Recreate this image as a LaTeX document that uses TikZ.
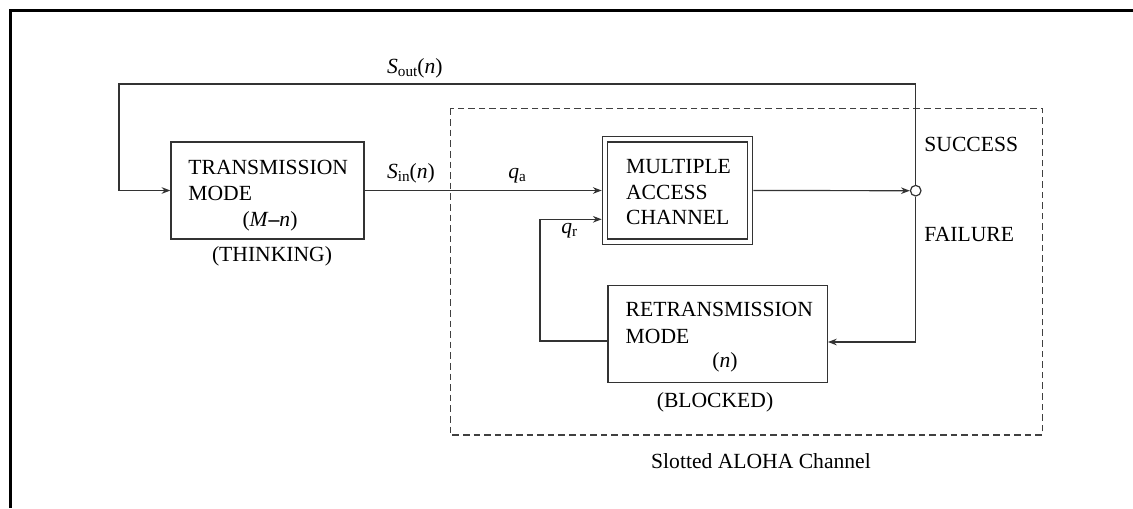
\documentclass[tikz,border=0pt]{standalone}
\usepackage{fontspec}
\setmainfont{Liberation Serif}
\usetikzlibrary{arrows.meta}
\newcommand\lowsub[1]{\raisebox{-1.6pt}{\fontsize{7.6pt}{8pt}\selectfont #1}}
\begin{document}
\begin{tikzpicture}[x=0.5pt,y=-0.5pt,
  font=\fontsize{10.8pt}{13pt}\selectfont,
  line/.style={draw=black!80,line width=0.6pt},
  arr/.style={line,-{Stealth[length=4.4pt,width=3.3pt]}},
  blockbox/.style={line,minimum height=48.5pt,inner sep=0pt},
  txt/.style={inner sep=0pt,anchor=base west},
  ctxt/.style={inner sep=0pt,anchor=base}]
\useasboundingbox (0,0) rectangle (1133,508);

% frame edges
\draw[line width=1.4pt] (10.5,508) -- (10.5,10.8) -- (1133,10.8);

% slotted ALOHA channel region
\draw[black!75,line width=0.55pt,dash pattern=on 3.3pt off 2pt]
  (450.3,108.5) rectangle (1042.3,435);
\node[ctxt] (aloha) at (761,468) {Slotted ALOHA Channel};

% blocks
\node[blockbox,minimum width=96.5pt] (tm) at (267.5,190.5) {};
\node[line,minimum width=75.2pt,minimum height=53.8pt,inner sep=0pt] (mac) at (677.5,190.5) {};
\node[blockbox,minimum width=69.65pt] (macin) at (677.5,190.5) {};
\node[blockbox,minimum width=109.65pt] (rt) at (717.7,334.2) {};
\node[line,circle,fill=white,minimum size=5.3pt,inner sep=0pt] (jn) at (915.7,190.7) {};

% block texts
\node[txt] (tm1) at (188,174) {TRANSMISSION};
\node[txt] (tm2) at (188,200) {MODE};
\node[ctxt] (tm3) at (270,226.5) {(\textit{M}{\fontseries{b}\selectfont –}\textit{n})};
\node[ctxt] (tmlab) at (272,261) {(THINKING)};

\node[txt] (mac1) at (625.7,173.3) {MULTIPLE};
\node[txt] (mac2) at (625.7,199) {ACCESS};
\node[txt] (mac3) at (625.7,224.3) {CHANNEL};

\node[txt] (rt1) at (625.3,316.7) {RETRANSMISSION};
\node[txt] (rt2) at (625.3,343.3) {MODE};
\node[ctxt] (rt3) at (725,367) {(\textit{n})};
\node[ctxt] (rtlab) at (715,407) {(BLOCKED)};

% signal labels
\node[txt] (sout) at (386.7,73.3) {\textit{S}\lowsub{out}(\textit{n})};
\node[txt] (sin) at (386.7,178.3) {\textit{S}\lowsub{in}(\textit{n})};
\node[txt] (qa) at (508,178) {\textit{q}\lowsub{a}};
\node[txt] (qr) at (561,233) {\textit{q}\lowsub{r}};
\node[txt] (succ) at (924,151.7) {SUCCESS};
\node[txt] (fail) at (924,241.7) {FAILURE};

% routing points
\coordinate (fbtop) at (119,84);
\coordinate (loopL) at (540,341);
\coordinate (qrin) at (540,219.3);
\coordinate (fdown) at (915.7,342);

% connectors
\draw[arr] (tm.east) -- (mac.west);
\draw[arr] (mac.east) -- (jn.west);
\draw[arr] (jn.north) |- (fbtop) |- (tm.west);
\draw[arr] (jn.south) -- (fdown) -- (rt.east |- fdown);
\draw[arr] (rt.west |- loopL) -- (loopL) -- (qrin) -- (mac.west |- qrin);
\end{tikzpicture}
\end{document}
